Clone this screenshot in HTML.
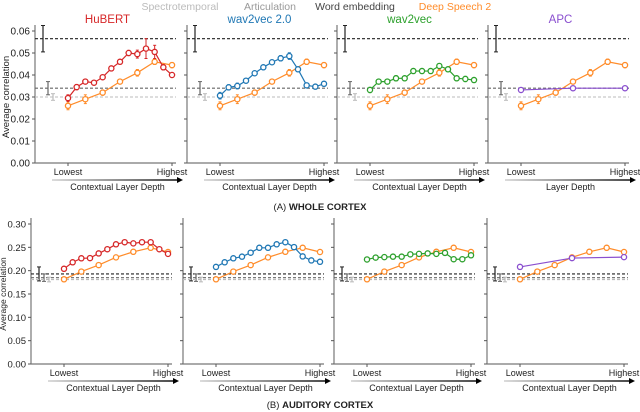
<!DOCTYPE html>
<html><head><meta charset="utf-8"><style>
body{margin:0;background:#fff;}
svg{display:block;font-family:"Liberation Sans",sans-serif;}
</style></head><body>
<svg id="c" width="640" height="412" viewBox="0 0 640 412"></svg>
<script>
// ---- data ----
const models = ["HuBERT","wav2vec 2.0","wav2vec","APC"];
const modelColors = ["#d62728","#1f77b4","#2ca02c","#8a4fcf"];
const topHubert = [0.0295,0.0345,0.037,0.0365,0.039,0.043,0.046,0.050,0.0495,0.052,0.0505,0.0435,0.040];
const topHubertErr = [0.0015,0.0012,0.001,0.001,0.0008,0.0008,0.001,0.0012,0.0018,0.0045,0.003,0.0012,0.0006];
const topW2v2 = [0.0306,0.0344,0.035,0.0374,0.0408,0.0435,0.0458,0.0476,0.0486,0.0426,0.0353,0.0347,0.036];
const topW2v2Err = [0.0015,0.0012,0.0013,0.0006,0.0006,0.0006,0.001,0.0012,0.0015,0.0006,0.0008,0.0006,0.0008];
const topW2v = [0.0332,0.037,0.037,0.0385,0.0385,0.0418,0.0418,0.0418,0.0441,0.0426,0.0385,0.0382,0.0377];
const topW2vErr = [0.0012,0.0006,0.0006,0.0012,0.0006,0.0008,0.0008,0.0008,0.0008,0.0008,0.0006,0.0012,0.0008];
const topApc = [0.0332,0.034,0.034];
const topApcErr = [0.0008,0.0008,0.0008];
const topDs2 = [0.026,0.029,0.032,0.037,0.041,0.046,0.0445];
const topDs2Err = [0.0018,0.002,0.0012,0.0008,0.0015,0.0012,0.0012];
const botHubert = [0.204,0.218,0.2265,0.227,0.237,0.246,0.2565,0.261,0.2585,0.261,0.261,0.246,0.236];
const botW2v2 = [0.208,0.218,0.2265,0.23,0.2385,0.249,0.249,0.2565,0.261,0.2505,0.2305,0.222,0.219];
const botW2v = [0.224,0.228,0.229,0.230,0.230,0.235,0.236,0.237,0.236,0.238,0.2245,0.2245,0.233];
const botApc = [0.208,0.227,0.229];
const botDs2 = [0.1815,0.198,0.212,0.2285,0.2405,0.249,0.240];
const topRefs = [0.0565,0.034,0.030];
const topRefErr = [0.006,0.003,0.0015];
const botRefs = [0.193,0.185,0.181];
const botRefErr = [0.015,0.008,0.005];
const refColors = ["#222","#666","#bbb"];
const topTicks = [0,0.01,0.02,0.03,0.04,0.05,0.06];
const botTicks = [0,0.05,0.10,0.15,0.20,0.25,0.30];
const legendLabels = ["Spectrotemporal","Articulation","Word embedding","Deep Speech 2"];
const DS = "#ff8c2a";

const NS="http://www.w3.org/2000/svg";
const svg=document.getElementById('c');
function mk(tag,attrs,parent){const e=document.createElementNS(NS,tag);for(const k in attrs)e.setAttribute(k,attrs[k]);(parent||svg).appendChild(e);return e;}
function txt(s,x,y,attrs){const e=mk('text',Object.assign({x:x,y:y},attrs));e.textContent=s;return e;}

const defs=mk('defs',{});
const lg=mk('linearGradient',{id:'ag',x1:'0',x2:'1',y1:'0',y2:'0'},defs);
mk('stop',{offset:'0','stop-color':'#ccc'},lg);mk('stop',{offset:'1','stop-color':'#000'},lg);

const legX=[180,270,355,455];
const legC=["#bbb","#999","#444",DS];
legendLabels.forEach((l,i)=>{
  const t=txt(l,legX[i],10,{'text-anchor':'middle','font-size':'10.5',fill:legC[i]});
  
  
});

function panel(row,pi,spineX,y0,yTop,yMax,ticks,series,errs,ds2,dsErr,refs,refErr,isTop){
  const g=mk('g',{});
  
  
  const right=spineX+141;
  const yS=v=>y0-(v/yMax)*(y0-yTop);
  const xS=f=>spineX+33+f*104;
  mk('line',{x1:spineX,y1:yTop-6,x2:spineX,y2:y0,stroke:'#777','stroke-width':1.2},g);
  mk('line',{x1:spineX,y1:y0,x2:right,y2:y0,stroke:'#777','stroke-width':1.2},g);
  ticks.forEach(t=>{
    const y=yS(t);
    mk('line',{x1:spineX-3,y1:y,x2:spineX,y2:y,stroke:'#555'},g);
    if(pi===0){const l=txt(t.toFixed(2),spineX-5,y+3.5,{'text-anchor':'end','font-size':isTop?'10':'9.5',fill:'#222'});g.appendChild(l);}
  });
  [0,1].forEach(f=>mk('line',{x1:xS(f),y1:y0,x2:xS(f),y2:y0+3,stroke:'#555'},g));
  g.appendChild(txt('Lowest',xS(0),y0+12,{'text-anchor':'middle','font-size':'9',fill:'#222'}));
  g.appendChild(txt('Highest',xS(1),y0+12,{'text-anchor':'middle','font-size':'9',fill:'#222'}));
  const ay=y0+17;
  const ax2=right+7;
  mk('rect',{x:spineX+17,y:ay-0.7,width:ax2-6-(spineX+17),height:1.4,fill:'url(#ag)'},g);
  mk('path',{d:`M${ax2-6},${ay-3} L${ax2},${ay} L${ax2-6},${ay+3} z`,fill:'#000'},g);
  g.appendChild(txt(isTop&&pi===3?'Layer Depth':'Contextual Layer Depth',(spineX+17+ax2)/2,ay+10,{'text-anchor':'middle','font-size':'9',fill:'#222'}));
  refs.forEach((r,i)=>{
    mk('line',{x1:spineX,y1:yS(r),x2:right,y2:yS(r),stroke:refColors[i],'stroke-width':1.1,'stroke-dasharray':'3,2'},g);
    const ex=spineX+8+i*5, e=refErr[i];
    mk('line',{x1:ex,y1:yS(r+e),x2:ex,y2:yS(r-e),stroke:refColors[i],'stroke-width':1.2},g);
    mk('line',{x1:ex-2,y1:yS(r+e),x2:ex+2,y2:yS(r+e),stroke:refColors[i]},g);
    mk('line',{x1:ex-2,y1:yS(r-e),x2:ex+2,y2:yS(r-e),stroke:refColors[i]},g);
  });
  function draw(vals,err,col,name){
    const n=vals.length;
    const pts=vals.map((v,i)=>[xS(i/(n-1)),yS(v)]);
    const pl=mk('polyline',{points:pts.map(p=>p.join(',')).join(' '),fill:'none',stroke:col,'stroke-width':1.2},g);
    
    
    vals.forEach((v,i)=>{
      if(err){const e=err[i];
        mk('line',{x1:pts[i][0],y1:yS(v+e),x2:pts[i][0],y2:yS(v-e),stroke:col,'stroke-width':1},g);
        mk('line',{x1:pts[i][0]-1.5,y1:yS(v+e),x2:pts[i][0]+1.5,y2:yS(v+e),stroke:col},g);
        mk('line',{x1:pts[i][0]-1.5,y1:yS(v-e),x2:pts[i][0]+1.5,y2:yS(v-e),stroke:col},g);}
      const c=mk('circle',{cx:pts[i][0],cy:pts[i][1],r:2.6,fill:'#fff',stroke:col,'stroke-width':1.3},g);
      
      
    });
  }
  draw(ds2,dsErr,DS,'deep-speech-2');
  draw(series,errs,modelColors[pi],models[pi].toLowerCase().replace(/[\s.]+/g,'-'));
  if(isTop){const t=txt(models[pi],(spineX+right)/2+2,23,{'text-anchor':'middle','font-size':'11.5',fill:modelColors[pi]});g.appendChild(t);}
  if(pi===0){
    const yl=txt('Average correlation',0,0,{'text-anchor':'middle','font-size':isTop?'9.5':'8.5',fill:'#222',transform:`translate(${isTop?9:6},${(y0+yTop)/2}) rotate(-90)`});
    g.appendChild(yl);
  }
}
const topSp=[35,187,337,488], botSp=[31,183,334,487];
const topS=[topHubert,topW2v2,topW2v,topApc], topE=[topHubertErr,topW2v2Err,topW2vErr,topApcErr];
const botS=[botHubert,botW2v2,botW2v,botApc];
for(let i=0;i<4;i++){
  panel(0,i,topSp[i],163,31,0.06,topTicks,topS[i],topE[i],topDs2,topDs2Err,topRefs,topRefErr,true);
  panel(1,i,botSp[i],364,224,0.30,botTicks,botS[i],null,botDs2,null,botRefs,botRefErr,false);
}
const c1=mk('text',{x:320,y:210,'text-anchor':'middle','font-size':'9.5',fill:'#222'});
c1.innerHTML='(A) <tspan font-weight="bold">WHOLE CORTEX</tspan>';

const c2=mk('text',{x:320,y:408,'text-anchor':'middle','font-size':'9.5',fill:'#222'});
c2.innerHTML='(B) <tspan font-weight="bold">AUDITORY CORTEX</tspan>';

</script>
</body></html>
